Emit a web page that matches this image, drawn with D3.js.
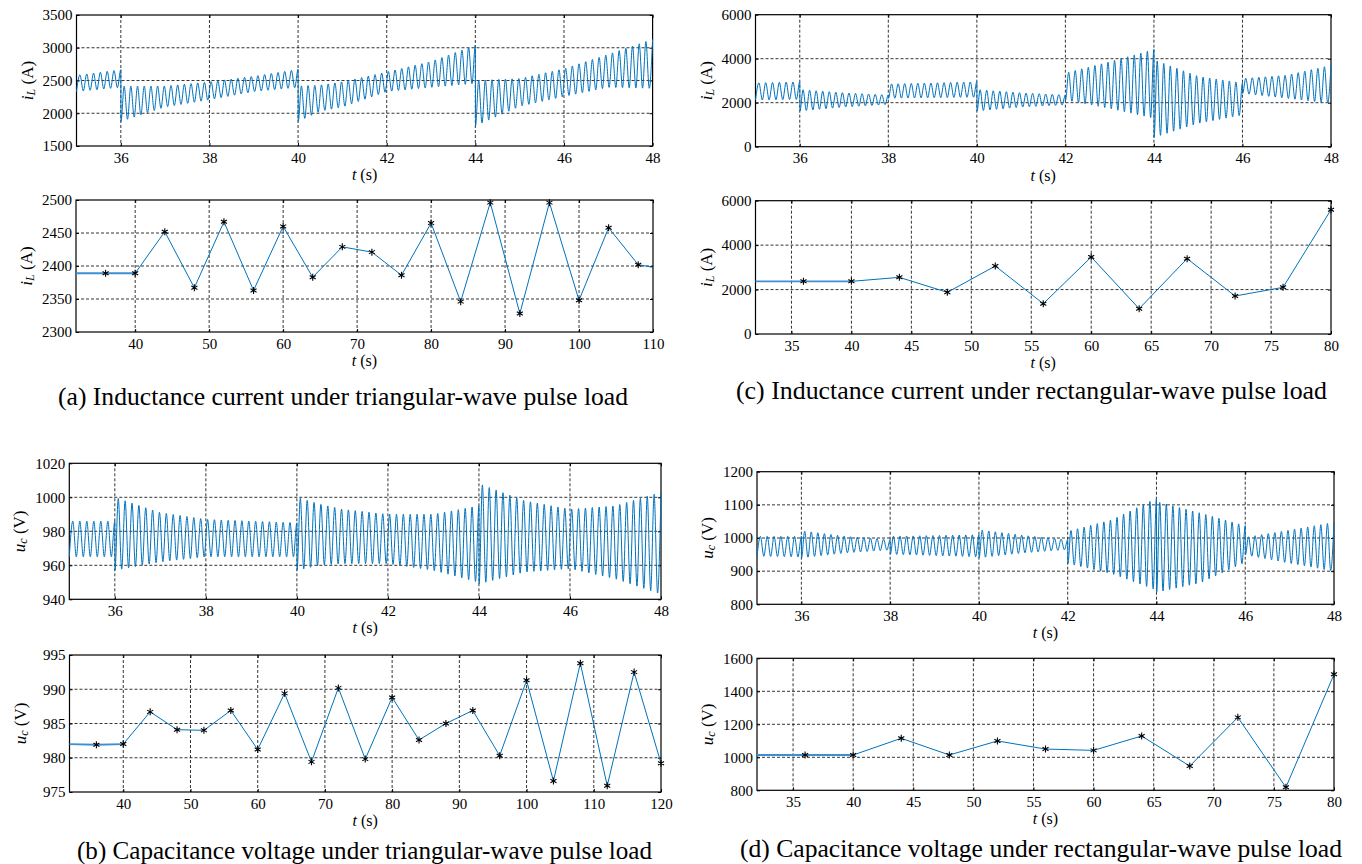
<!DOCTYPE html>
<html>
<head>
<meta charset="utf-8">
<script src="https://cdn.jsdelivr.net/npm/d3@7"></script>
<style>
body { margin: 0; background: #fff; }
svg text { font-family: "Liberation Serif", "Times New Roman", serif; fill: #000; }
</style>
</head>
<body>
<svg id="fig" width="1362" height="864"></svg>
<script>
// oscillation frequency of the simulated traces (cycles per second)
var oscHz = 6.5;

// (a) top: inductance current, triangular load - envelope knots (a repeated time marks a jump)
var ilTriKnotT  = [35, 36, 36, 37, 38, 39, 40, 40, 40.5, 41, 42, 43, 44, 44, 45, 46, 47, 48];
var ilTriUpper  = [2580, 2665, 2415, 2415, 2480, 2565, 2670, 2415, 2430, 2480, 2630, 2790, 3040, 2500, 2530, 2680, 2900, 3130];
var ilTriLower  = [2330, 2395, 1875, 2095, 2205, 2330, 2395, 1875, 2030, 2095, 2330, 2395, 2455, 1805, 2105, 2255, 2395, 2380];

// (b) top: capacitance voltage, triangular load
var ucTriKnotT  = [35, 36, 36, 37, 38, 40, 40, 40.5, 41, 42, 43, 44, 44, 45, 46, 47, 48];
var ucTriUpper  = [986, 986, 1000, 991, 987, 985, 1000, 996, 993, 990, 990, 995, 1008, 998, 993, 995, 1003];
var ucTriLower  = [965, 965, 957, 962, 965, 965, 957, 960, 961, 961, 957, 950, 949, 956, 958, 952, 943];

// (c) top: inductance current, rectangular load
var ilRectKnotT = [35, 36, 36, 37, 38, 38, 40, 40, 41, 42, 42, 43, 44, 44, 45, 46, 46, 47, 48];
var ilRectUpper = [2900, 2950, 2600, 2450, 2350, 2850, 2950, 2600, 2450, 2350, 3350, 3860, 4420, 3950, 3200, 2900, 3100, 3250, 3700];
var ilRectLower = [2120, 2150, 1620, 1800, 1920, 2200, 2250, 1620, 1800, 1900, 2120, 1740, 1290, 420, 1060, 1440, 2420, 2200, 1970];

// (d) top: capacitance voltage, rectangular load
var ucRectKnotT = [35, 36, 36, 37, 38, 38, 40, 40, 41, 42, 42, 43, 44, 44, 45, 46, 46, 47, 48];
var ucRectUpper = [1005, 1005, 1022, 1005, 995, 1005, 1010, 1025, 1008, 995, 1020, 1055, 1120, 1110, 1075, 1037, 1002, 1024, 1047];
var ucRectLower = [945, 943, 940, 955, 964, 951, 943, 940, 955, 965, 923, 892, 843, 836, 865, 927, 949, 924, 900];

// (a) bottom: sampled inductance current, triangular load
var ilTriStepT = [32, 36, 40, 44, 48, 52, 56, 60, 64, 68, 72, 76, 80, 84, 88, 92, 96, 100, 104, 108, 110];
var ilTriStepV = [2389, 2389, 2389, 2452, 2367, 2467, 2363, 2460, 2383, 2429, 2421, 2386, 2465, 2346, 2496, 2328, 2496, 2348, 2458, 2402, 2398];

// (b) bottom: sampled capacitance voltage, triangular load
var ucTriStepT = [32, 36, 40, 44, 48, 52, 56, 60, 64, 68, 72, 76, 80, 84, 88, 92, 96, 100, 104, 108, 112, 116, 120];
var ucTriStepV = [982.0, 981.9, 982.0, 986.7, 984.1, 984.0, 986.9, 981.2, 989.4, 979.4, 990.2, 979.8, 988.8, 982.6, 985.0, 986.9, 980.3, 991.3, 976.6, 993.8, 975.9, 992.5, 979.2];

// (c) bottom: sampled inductance current, rectangular load
var ilRectStepT = [32, 36, 40, 44, 48, 52, 56, 60, 64, 68, 72, 76, 80];
var ilRectStepV = [2370, 2370, 2370, 2550, 1875, 3060, 1365, 3465, 1140, 3390, 1710, 2100, 5595];

// (d) bottom: sampled capacitance voltage, rectangular load
var ucRectStepT = [32, 36, 40, 44, 48, 52, 56, 60, 64, 68, 72, 76, 80];
var ucRectStepV = [1014, 1014, 1014, 1115, 1014, 1099, 1050, 1042, 1129, 947, 1242, 818, 1503];

var captions = [
    "(a) Inductance current under triangular-wave pulse load",
    "(b) Capacitance voltage under triangular-wave pulse load",
    "(c) Inductance current under rectangular-wave pulse load",
    "(d) Capacitance voltage under rectangular-wave pulse load"
];

var lineColor = "#0072BD";
var svg = d3.select("#fig");
var fmt = d3.format("d");

// Draw box, grid, ticks and labels, return scales
function drawFrame(box, xd, yd, xt, yt, ylab) {
    var x = d3.scaleLinear().domain(xd).range([box[0], box[2]]);
    var y = d3.scaleLinear().domain(yd).range([box[3], box[1]]);
    var g = svg.append("g");

    // dashed grid
    g.selectAll("line.gx").data(xt.filter(function(d) { return d > xd[0] && d < xd[1]; }))
        .enter().append("line")
        .attr("x1", x).attr("x2", x)
        .attr("y1", box[1]).attr("y2", box[3])
        .attr("stroke", "#000").attr("stroke-width", 0.8).attr("stroke-dasharray", "3,2");
    g.selectAll("line.gy").data(yt.filter(function(d) { return d > yd[0] && d < yd[1]; }))
        .enter().append("line")
        .attr("y1", y).attr("y2", y)
        .attr("x1", box[0]).attr("x2", box[2])
        .attr("stroke", "#000").attr("stroke-width", 0.8).attr("stroke-dasharray", "3,2");

    // axes with inward ticks
    g.append("g").attr("transform", "translate(0," + box[3] + ")")
        .call(d3.axisBottom(x).tickValues(xt).tickFormat(fmt).tickSizeInner(-3).tickSizeOuter(0).tickPadding(6));
    g.append("g").attr("transform", "translate(" + box[0] + ",0)")
        .call(d3.axisLeft(y).tickValues(yt).tickFormat(fmt).tickSizeInner(-3).tickSizeOuter(0).tickPadding(4));
    g.append("g").attr("transform", "translate(0," + box[1] + ")")
        .call(d3.axisTop(x).tickValues(xt).tickSizeInner(-3).tickSizeOuter(0).tickFormat(""));
    g.append("g").attr("transform", "translate(" + box[2] + ",0)")
        .call(d3.axisRight(y).tickValues(yt).tickSizeInner(-3).tickSizeOuter(0).tickFormat(""));
    g.selectAll(".domain").remove();
    g.selectAll("g").attr("font-family", null).attr("font-size", null);
    g.selectAll(".tick text").attr("font-size", 15);
    g.selectAll(".tick line").attr("stroke", "#000");

    // frame
    g.append("rect")
        .attr("x", box[0]).attr("y", box[1])
        .attr("width", box[2] - box[0]).attr("height", box[3] - box[1])
        .attr("fill", "none").attr("stroke", "#000").attr("stroke-width", 1.2);

    // t (s)
    var tl = g.append("text")
        .attr("x", (box[0] + box[2]) / 2).attr("y", box[3] + 34)
        .attr("text-anchor", "middle").attr("font-size", 16);
    tl.append("tspan").attr("font-style", "italic").text("t");
    tl.append("tspan").text(" (s)");

    // y label with subscript
    var cy = (box[1] + box[3]) / 2, cx = box[0] - 50;
    var yl = g.append("text")
        .attr("transform", "translate(" + cx + "," + cy + ") rotate(-90)")
        .attr("text-anchor", "middle").attr("dominant-baseline", "central")
        .attr("font-size", 17);
    yl.append("tspan").attr("font-style", "italic").text(ylab[0]);
    yl.append("tspan").attr("font-style", "italic").attr("font-size", 12).attr("dy", 4).text(ylab[1]);
    yl.append("tspan").attr("dy", -4).text(" " + ylab[2]);

    return { x: x, y: y, g: g };
}

// Oscillating trace: alternate between lower and upper envelope every half period
function oscTrace(knotT, upper, lower) {
    var segs = [], cur = [];
    knotT.forEach(function(t, i) {
        if (i > 0 && t === knotT[i - 1]) { segs.push(cur); cur = []; }
        cur.push(i);
    });
    segs.push(cur);

    var pts = [];
    segs.forEach(function(idx, s) {
        var ts = idx.map(function(i) { return knotT[i]; });
        var up = d3.scaleLinear().domain(ts).range(idx.map(function(i) { return upper[i]; }));
        var lo = d3.scaleLinear().domain(ts).range(idx.map(function(i) { return lower[i]; }));
        var t0 = ts[0], t1 = ts[ts.length - 1];
        var n = Math.round((t1 - t0) * 2 * oscHz);
        if (n % 2 === 0) n += 1;
        for (var k = 0; k <= n; k++) {
            var t = t0 + (t1 - t0) * k / n;
            if (k === 0 && s > 0) t += 0.004;
            pts.push([t, k % 2 ? up(t) : lo(t)]);
        }
    });
    return pts;
}

function drawOsc(f, knotT, upper, lower) {
    var line = d3.line()
        .x(function(d) { return f.x(d[0]); })
        .y(function(d) { return f.y(d[1]); })
        .curve(d3.curveMonotoneX);
    f.g.append("path")
        .attr("d", line(oscTrace(knotT, upper, lower)))
        .attr("fill", "none").attr("stroke", lineColor).attr("stroke-width", 1);
}

function drawSteps(f, ts, vs, markTo) {
    var pts = ts.map(function(t, i) { return [t, vs[i]]; });
    var line = d3.line()
        .x(function(d) { return f.x(d[0]); })
        .y(function(d) { return f.y(d[1]); });
    // initial hold segment drawn a bit heavier
    f.g.append("path")
        .attr("d", line(pts.slice(0, 3)))
        .attr("fill", "none").attr("stroke", "#3d8fd1").attr("stroke-width", 1.8);
    f.g.append("path")
        .attr("d", line(pts.slice(2)))
        .attr("fill", "none").attr("stroke", lineColor).attr("stroke-width", 1);
    var sym = d3.symbol().type(d3.symbolAsterisk).size(34);
    f.g.selectAll("path.mk").data(pts.slice(1, markTo))
        .enter().append("path")
        .attr("class", "mk")
        .attr("transform", function(d) { return "translate(" + f.x(d[0]) + "," + f.y(d[1]) + ")"; })
        .attr("d", sym)
        .attr("fill", "none").attr("stroke", "#000").attr("stroke-width", 1.1);
}

var iL = ["i", "L", "(A)"], uC = ["u", "c", "(V)"];

// (a)
var aTop = drawFrame([76.5, 15, 652.6, 146], [35, 48], [1500, 3500],
    d3.range(36, 49, 2), d3.range(1500, 3501, 500), iL);
drawOsc(aTop, ilTriKnotT, ilTriUpper, ilTriLower);
var aBot = drawFrame([76, 200, 653, 332], [32, 110], [2300, 2500],
    d3.range(40, 111, 10), d3.range(2300, 2501, 50), iL);
drawSteps(aBot, ilTriStepT, ilTriStepV, ilTriStepT.length - 1);

// (b)
var bTop = drawFrame([69.3, 463.3, 661, 599.3], [35, 48], [940, 1020],
    d3.range(36, 49, 2), d3.range(940, 1021, 20), uC);
drawOsc(bTop, ucTriKnotT, ucTriUpper, ucTriLower);
var bBot = drawFrame([69.5, 655, 661, 792], [32, 120], [975, 995],
    d3.range(40, 121, 10), d3.range(975, 996, 5), uC);
drawSteps(bBot, ucTriStepT, ucTriStepV, ucTriStepT.length);

// (c)
var cTop = drawFrame([755.5, 14.7, 1331, 146.7], [35, 48], [0, 6000],
    d3.range(36, 49, 2), d3.range(0, 6001, 2000), iL);
drawOsc(cTop, ilRectKnotT, ilRectUpper, ilRectLower);
var cBot = drawFrame([755.5, 200.7, 1331, 334], [32, 80], [0, 6000],
    d3.range(35, 81, 5), d3.range(0, 6001, 2000), iL);
drawSteps(cBot, ilRectStepT, ilRectStepV, ilRectStepT.length);

// (d)
var dTop = drawFrame([757, 471.7, 1334, 604.3], [35, 48], [800, 1200],
    d3.range(36, 49, 2), d3.range(800, 1201, 100), uC);
drawOsc(dTop, ucRectKnotT, ucRectUpper, ucRectLower);
var dBot = drawFrame([757, 658.3, 1334, 790.3], [32, 80], [800, 1600],
    d3.range(35, 81, 5), d3.range(800, 1601, 200), uC);
drawSteps(dBot, ucRectStepT, ucRectStepV, ucRectStepT.length);

// captions, fitted to the widths they take in the figure
var capPos = [[58, 405, 570], [77, 859, 575], [736, 399, 591], [740, 857, 602]];
svg.selectAll("text.cap").data(captions)
    .enter().append("text")
    .attr("class", "cap")
    .attr("x", function(d, i) { return capPos[i][0]; })
    .attr("y", function(d, i) { return capPos[i][1]; })
    .attr("textLength", function(d, i) { return capPos[i][2]; })
    .attr("lengthAdjust", "spacingAndGlyphs")
    .attr("font-size", 25.5)
    .text(function(d) { return d; });
</script>
</body>
</html>
